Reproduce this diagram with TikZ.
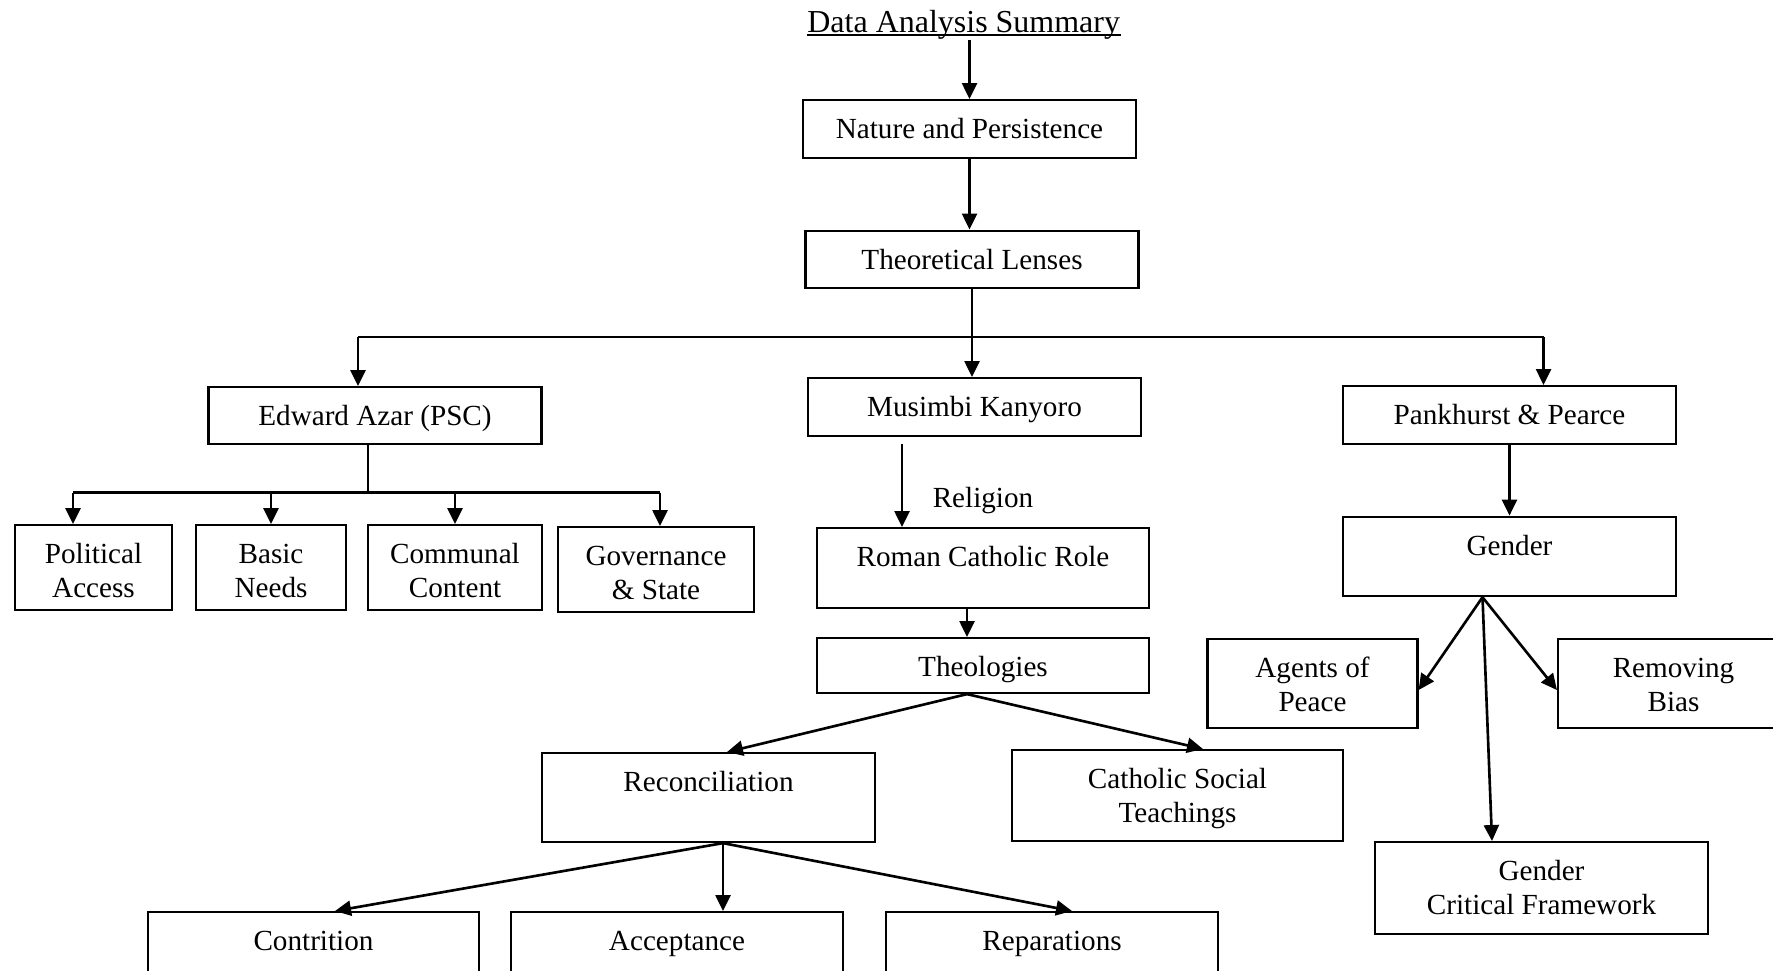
\documentclass[tikz,border=0pt]{standalone}
\usepackage{fontspec}
\setmainfont{Liberation Serif}
\usetikzlibrary{arrows.meta}

\begin{document}
\begin{tikzpicture}[
    box/.style={draw, line width=0.6pt, inner sep=0pt, minimum width=3.33cm, align=center, font=\fontsize{8.3}{9.7}\selectfont},
    tbox/.style={box, anchor=north, text height=0.385cm, text depth=#1},
    tboxtwo/.style={tbox=#1, text height=0.726cm},
    arr/.style={-{Triangle[length=1.6mm, width=1.5mm]}, line width=0.75pt}
  ]
  \useasboundingbox (0,0) rectangle (17.73,-9.70);
  \clip (0,0) rectangle (17.73,-9.70);

  % title
  \node[inner sep=0pt, anchor=base, font=\fontsize{9.1}{11}\selectfont] (title) at (9.637,-0.322) {Data Analysis Summary};
  \draw[line width=0.5pt] ([yshift=-0.027cm]title.base west) -- ([yshift=-0.027cm]title.base east);

  % main column
  \node[tbox=0.195cm] (nat) at (9.695,-0.99) {Nature and Persistence};
  \node[tbox=0.19cm] (theo) at (9.72,-2.295) {Theoretical Lenses};
  \node[tbox=0.185cm] (edw) at (3.75,-3.86) {Edward Azar (PSC)};
  \node[tbox=0.195cm] (mus) at (9.745,-3.77) {Musimbi Kanyoro};
  \node[tbox=0.195cm] (pank) at (15.095,-3.85) {Pankhurst \& Pearce};

  % Azar
  \node[tboxtwo=0.124cm, minimum width=1.57cm] (pol) at (0.935,-5.24) {Political\\Access};
  \node[tboxtwo=0.124cm, minimum width=1.495cm] (bas) at (2.71,-5.24) {Basic\\Needs};
  \node[tboxtwo=0.124cm, minimum width=1.74cm] (com) at (4.55,-5.24) {Communal\\Content};
  \node[tboxtwo=0.124cm, minimum width=1.96cm] (gov) at (6.56,-5.26) {Governance\\\& State};

  % Kanyoro
  \node[font=\fontsize{8.3}{9.7}\selectfont, inner sep=0pt] (religion) at (9.83,-5.01) {Religion};
  \node[tbox=0.415cm, minimum width=3.32cm] (rcr) at (9.83,-5.27) {Roman Catholic Role};
  \node[tbox=0.165cm, minimum width=3.32cm] (theol) at (9.83,-6.37) {Theologies};
  \node[tbox=0.505cm] (rec) at (7.085,-7.52) {Reconciliation};
  \node[tboxtwo=0.184cm, minimum width=3.31cm] (cst) at (11.775,-7.49) {Catholic Social\\Teachings};
  \node[tbox=0.505cm, minimum width=3.31cm] (con) at (3.135,-9.11) {Contrition};
  \node[tbox=0.505cm, minimum width=3.32cm] (acc) at (6.77,-9.11) {Acceptance};
  \node[tbox=0.505cm, minimum width=3.32cm] (rep) at (10.52,-9.11) {Reparations};

  % Pankhurst
  \node[tbox=0.41cm] (gen) at (15.095,-5.156) {Gender};
  \node[tboxtwo=0.164cm, minimum width=2.10cm] (agents) at (13.125,-6.375) {Agents of\\Peace};
  \node[tboxtwo=0.164cm, minimum width=2.31cm] (rem) at (16.735,-6.375) {Removing\\Bias};
  \node[tboxtwo=0.194cm] (gcf) at (15.415,-8.41) {Gender\\Critical Framework};

  % connectors
  \draw[arr] (title.south -| nat.north) -- (nat.north);
  \draw[arr] (nat.south) -- (nat.south |- theo.north);

  \coordinate (tl) at (3.58,-3.37);
  \coordinate (tr) at (15.435,-3.37);
  \draw[line width=0.8pt] (tl) -- (tr);
  \draw[arr] (theo.south) -- (theo.south |- mus.north);
  \draw[arr] (tl) -- (tl |- edw.north);
  \draw[arr] (tr) -- (tr |- pank.north);

  \coordinate (el) at (0.73,-4.927);
  \coordinate (er) at (6.60,-4.927);
  \draw[line width=0.8pt] ([xshift=-0.07cm]edw.south) -- ([xshift=-0.07cm]edw.south |- el);
  \draw[line width=0.8pt] (el) -- (er);
  \draw[arr] (el) -- (el |- pol.north);
  \draw[arr] (bas.north |- el) -- (bas.north);
  \draw[arr] (com.north |- el) -- (com.north);
  \draw[arr] (er) -- (er |- gov.north);

  \coordinate (rel) at (9.02,-4.44);
  \draw[arr] (rel) -- (rel |- rcr.north);
  \draw[arr] ([xshift=-0.16cm]rcr.south) -- ([xshift=-0.16cm]theol.north);
  \draw[arr] ([xshift=-0.16cm]theol.south) -- ([xshift=0.185cm]rec.north);
  \draw[arr] ([xshift=-0.16cm]theol.south) -- ([xshift=0.255cm]cst.north);
  \draw[arr] ([xshift=0.145cm]rec.south) -- ([xshift=0.215cm]con.north);
  \draw[arr] ([xshift=0.145cm]rec.south) -- ([xshift=0.46cm]acc.north);
  \draw[arr] ([xshift=0.145cm]rec.south) -- ([xshift=0.2cm]rep.north);

  \draw[arr] (pank.south) -- (pank.south |- gen.north);
  \draw[arr] ([xshift=-0.27cm]gen.south) -- ([yshift=-0.07cm]agents.east);
  \draw[arr] ([xshift=-0.27cm]gen.south) -- ([yshift=-0.07cm]rem.west);
  \draw[arr] ([xshift=-0.27cm]gen.south) -- ([xshift=-0.495cm]gcf.north);
\end{tikzpicture}
\end{document}
